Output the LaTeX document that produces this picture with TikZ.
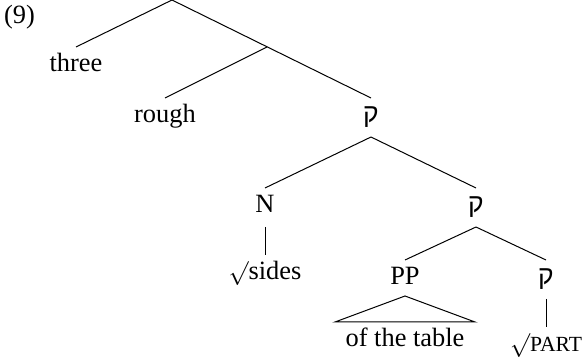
\documentclass[tikz,border=0pt]{standalone}
\usepackage{fontspec}
\setmainfont{Liberation Serif}
\newfontfamily\hebfont[Script=Hebrew]{Liberation Sans}
\usetikzlibrary{calc}
\newcommand{\qof}{{\hebfont ק}}
\newcommand{\rootsign}{$\surd$}
\begin{document}
\begin{tikzpicture}[x=0.5pt,y=-0.5pt,
  lab/.style={inner sep=0pt, outer sep=4pt, text height=8.5pt, text depth=3pt,
              font=\fontsize{13.2pt}{15pt}\selectfont, anchor=north},
  edge/.style={line width=0.5pt}]
\useasboundingbox (0,0) rectangle (584,363);
\node[inner sep=0pt, anchor=base, font=\fontsize{13.2pt}{15pt}\selectfont] (ex) at (19.5,24) {(9)};
\coordinate (root) at (172,0);
\coordinate (j1) at (267,47);
\node[lab] (three) at (76,47) {three};
\node[lab] (rough) at (165,98) {rough};
\node[lab] (q1) at (371,98) {\qof};
\node[lab] (N) at (265,188) {N};
\node[lab] (q2) at (476,188) {\qof};
\node[lab] (sides) at (265,255) {\rootsign sides};
\node[lab] (PP) at (405,260) {PP};
\node[lab] (q3) at (546,260) {\qof};
\node[lab] (table) at (405,322) {of the table};
\node[lab] (part) at (546,327) {\rootsign{\fontsize{10.8pt}{12pt}\selectfont PART}};
\draw[edge] (root) -- (three.north);
\draw[edge] (root) -- (q1.north);
\draw[edge] (j1) -- (rough.north);
\draw[edge] (q1.south) -- (N.north);
\draw[edge] (q1.south) -- (q2.north);
\draw[edge] (N.south) -- (sides.north);
\draw[edge] (q2.south) -- (PP.north);
\draw[edge] (q2.south) -- (q3.north);
\draw[edge] (q3.south) -- (part.north);
\draw[edge] ($(PP.south)+(0,-3)$) -- ($(table.north)+(-70,0)$) -- ($(table.north)+(70,0)$) -- cycle;
\end{tikzpicture}
\end{document}
